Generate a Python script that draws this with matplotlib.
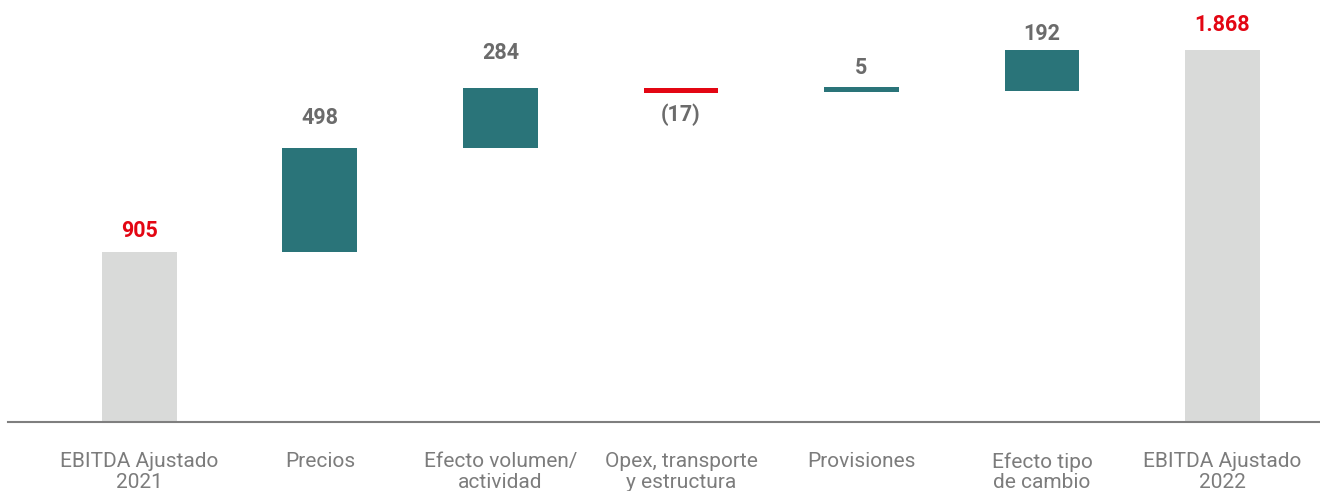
import matplotlib.pyplot as plt
import numpy as np

# EBITDA bridge 2021 -> 2022
categories = ['EBITDA Ajustado\n2021', 'Precios', 'Efecto volumen/\nactividad',
              'Opex, transporte\ny estructura', 'Provisiones', 'Efecto tipo\nde cambio',
              'EBITDA Ajustado\n2022']
start_total = 905
deltas = [498, 284, -17, 5, 192]
end_total = 1868
value_labels = ['905', '498', '284', '(17)', '5', '192', '1.868']

# label gap from bar edge, in points
label_gap = [11, 17, 21, 8, 9, 7, 14]
min_h = 22  # tiny changes still get a visible stripe

teal = '#2a7479'
grey_bar = '#d9dad9'
red = '#e30613'
txt_grey = '#6b6b6b'
cat_grey = '#7c7c7c'

plt.rcParams['font.family'] = ['Roboto', 'DejaVu Sans']

fig = plt.figure(figsize=(13.2, 4.91), dpi=100)
ax = fig.add_axes([8 / 1320, (491 - 421.5) / 491, 1 - 8 / 1320, 421.5 / 491])

x = np.arange(len(categories))
bottoms = [0]
heights = [start_total]
colors = [grey_bar]
cum = start_total
for d in deltas:
    h = max(abs(d), min_h)
    if d >= 0:
        bottoms.append(cum)
        colors.append(teal)
    else:
        bottoms.append(cum - h)
        colors.append(red)
    heights.append(h)
    cum += d
bottoms.append(0)
heights.append(end_total)
colors.append(grey_bar)

ax.bar(x, heights, bottom=bottoms, width=0.415, color=colors, linewidth=0)

for i in range(len(x)):
    top = bottoms[i] + heights[i]
    is_total = i == 0 or i == len(x) - 1
    c = red if is_total else txt_grey
    if 0 < i <= len(deltas) and deltas[i - 1] < 0:
        ax.annotate(value_labels[i], (x[i], bottoms[i]), xytext=(0, -label_gap[i]),
                    textcoords='offset points', ha='center', va='top',
                    fontsize=15.5, fontweight='bold', color=c)
    else:
        ax.annotate(value_labels[i], (x[i], top), xytext=(0, label_gap[i]),
                    textcoords='offset points', ha='center', va='baseline',
                    fontsize=15.5, fontweight='bold', color=c)

ax.set_xlim(-0.728, 6.54)
ax.set_ylim(99.5, 1868 + 50 * 4.76)

for s in ['top', 'right', 'left']:
    ax.spines[s].set_visible(False)
ax.spines['bottom'].set_color('#7f7f7f')
ax.spines['bottom'].set_linewidth(1.5)
ax.set_yticks([])
ax.set_xticks(x)
ax.set_xticklabels(categories, fontsize=15, color=cat_grey, linespacing=1.1)
ax.tick_params(axis='x', length=0, pad=22)

fig.savefig('out.png', dpi=100)
